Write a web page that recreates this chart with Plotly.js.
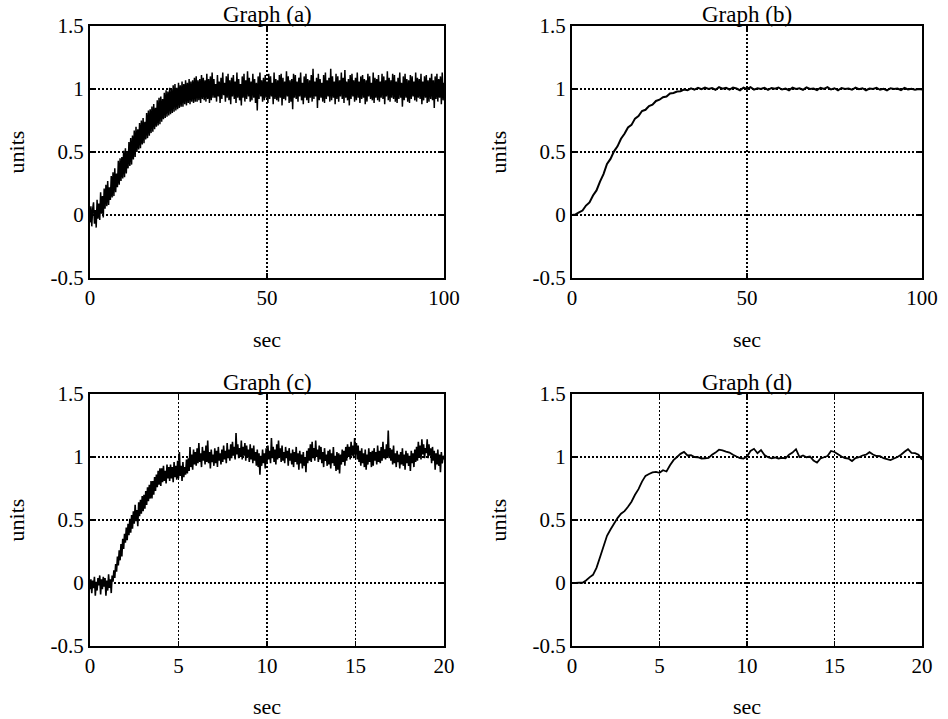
<!DOCTYPE html>
<html><head><meta charset="utf-8">
<script src="https://cdn.plot.ly/plotly-3.0.1.min.js"></script>
<style>html,body{margin:0;padding:0;background:#fff}#chart{width:948px;height:719px}</style>
</head><body><div id="chart"></div>
<script>
// ---- labels ----
const graphTitles = ["Graph (a)", "Graph (b)", "Graph (c)", "Graph (d)"];
const xLabel = "sec";
const yLabel = "units";
const yTickVals = [-0.5, 0, 0.5, 1, 1.5];
const yTickText = ["-0.5", "0", "0.5", "1", "1.5"];
const xTickValsLong = [0, 50, 100];
const xTickTextLong = ["0", "50", "100"];
const xTickValsShort = [0, 5, 10, 15, 20];
const xTickTextShort = ["0", "5", "10", "15", "20"];

// ---- sample times (start, step) ----
const tStartA = 0, tStepA = 0.25;
const tStartB = 0, tStepB = 1;
const tStartC = 0, tStepC = 0.05;
const tStartD = 0, tStepD = 0.2;

// ---- Graph (a): noisy response, 0..100 s (one row per second) ----
const seriesA = [
 -0.06, 0.07, -0.09, 0.05,   0.10, -0.07, 0.04, -0.10,   0.12, -0.03, 0.09, -0.04,   0.18, 0.01, 0.15, -0.02,
 0.21, 0.05, 0.24, 0.07,     0.27, 0.08, 0.22, 0.12,     0.31, 0.14, 0.34, 0.15,     0.37, 0.18, 0.33, 0.22,
 0.43, 0.24, 0.45, 0.27,     0.46, 0.29, 0.51, 0.30,     0.53, 0.33, 0.50, 0.37,     0.58, 0.39, 0.61, 0.40,
 0.63, 0.44, 0.67, 0.46,     0.70, 0.50, 0.68, 0.52,     0.73, 0.53, 0.75, 0.56,     0.77, 0.57, 0.74, 0.60,
 0.81, 0.61, 0.83, 0.63,     0.84, 0.65, 0.86, 0.66,     0.88, 0.68, 0.85, 0.70,     0.91, 0.71, 0.93, 0.72,
 0.94, 0.74, 0.92, 0.76,     0.97, 0.77, 0.99, 0.78,     0.98, 0.79, 1.01, 0.80,     1.00, 0.81, 1.03, 0.82,
 1.04, 0.83, 1.01, 0.84,     1.05, 0.85, 1.03, 0.86,     1.06, 0.86, 1.04, 0.88,     1.07, 0.87, 1.05, 0.89,
 1.08, 0.88, 1.06, 0.90,     1.07, 0.89, 1.09, 0.90,     1.10, 0.90, 1.07, 0.91,     1.08, 0.89, 1.11, 0.92,
 1.09, 0.91, 1.07, 0.90,     1.12, 0.92, 1.08, 0.89,     1.10, 0.91, 1.13, 0.93,
 1.08, 0.93, 1.04, 0.90,     1.11, 0.94, 1.06, 0.89,     1.09, 0.92, 1.13, 0.95,     1.05, 0.90, 1.10, 0.93,
 1.12, 0.91, 1.07, 0.88,     1.09, 0.94, 1.11, 0.92,     1.06, 0.89, 1.13, 0.93,     1.08, 0.91, 1.04, 0.87,
 1.10, 0.93, 1.12, 0.90,     1.07, 0.92, 1.14, 0.94,     1.09, 0.90, 1.06, 0.91,     1.12, 0.93, 1.08, 0.89,
 1.05, 0.83, 1.10, 0.92,     1.13, 0.94, 1.07, 0.90,     1.09, 0.91, 1.11, 0.93,     1.06, 0.89, 1.12, 0.92,
 1.10, 0.94, 1.05, 0.88,     1.13, 0.92, 1.08, 0.91,     1.07, 0.90, 1.11, 0.93,     1.12, 0.87, 1.09, 0.92,
 1.06, 0.91, 1.14, 0.94,     1.10, 0.89, 1.07, 0.90,     1.08, 0.84, 1.12, 0.93,     1.11, 0.92, 1.06, 0.90,
 1.09, 0.94, 1.13, 0.91,     1.05, 0.88, 1.10, 0.93,     1.12, 0.91, 1.08, 0.89,     1.07, 0.93, 1.11, 0.90,
 1.16, 0.92, 1.06, 0.94,     1.09, 0.85, 1.12, 0.91,     1.08, 0.93, 1.05, 0.90,     1.11, 0.89, 1.13, 0.92,
 1.07, 0.94, 1.09, 0.90,     1.16, 0.91, 1.10, 0.93,     1.06, 0.88, 1.12, 0.92,     1.10, 0.90, 1.07, 0.94,
 1.13, 0.92, 1.09, 0.89,     1.15, 0.93, 1.06, 0.91,     1.08, 0.87, 1.11, 0.92,     1.12, 0.94, 1.07, 0.90,
 1.09, 0.91, 1.13, 0.93,     1.06, 0.89, 1.10, 0.92,     1.11, 0.93, 1.08, 0.88,     1.07, 0.90, 1.12, 0.94,
 1.10, 0.92, 1.05, 0.91,     1.13, 0.89, 1.09, 0.93,     1.08, 0.91, 1.11, 0.90,     1.06, 0.93, 1.12, 0.92,
 1.10, 0.88, 1.07, 0.94,     1.14, 0.91, 1.09, 0.90,     1.07, 0.93, 1.12, 0.92,     1.11, 0.90, 1.06, 0.89,
 1.09, 0.92, 1.13, 0.93,     1.05, 0.86, 1.10, 0.91,     1.12, 0.93, 1.08, 0.90,     1.07, 0.89, 1.11, 0.92,
 1.10, 0.94, 1.06, 0.91,     1.13, 0.90, 1.09, 0.93,     1.08, 0.92, 1.12, 0.88,     1.06, 0.91, 1.10, 0.93,
 1.11, 0.89, 1.07, 0.90,     1.09, 0.92, 1.12, 0.91,     1.07, 0.85, 1.10, 0.92,     1.12, 0.90, 1.08, 0.93,
 1.10, 0.88, 1.13, 0.91,
 1.05
];

// ---- Graph (b): filtered response, 0..100 s ----
const seriesB = [
 0, 0.005, 0.02, 0.035, 0.075, 0.10, 0.155, 0.195, 0.265, 0.325,
 0.405, 0.445, 0.505, 0.545, 0.605, 0.645, 0.695, 0.715, 0.765, 0.785,
 0.825, 0.835, 0.865, 0.875, 0.905, 0.915, 0.935, 0.94, 0.965, 0.968,
 0.98, 0.982, 0.995, 0.99, 1.005,
 0.995, 1.01, 0.998, 1.012, 1.0, 1.008, 0.994, 1.015, 1.002, 1.01,
 0.996, 1.012, 1.004, 0.99, 1.01, 1.0, 1.014, 0.995, 1.006, 1.0,
 1.01, 0.993, 1.008, 1.002, 1.012, 0.996, 1.004, 0.99, 1.01, 1.0,
 1.006, 0.994, 1.012, 1.0, 1.004, 0.992, 1.01, 1.0, 1.015, 0.996,
 1.006, 0.99, 1.008, 1.0, 1.004, 0.994, 1.01, 0.998, 1.006, 0.99,
 1.004, 1.0, 1.01, 0.994, 1.002, 0.99, 1.006, 1.0, 1.004, 0.992,
 1.008, 0.996, 1.002, 0.994, 1.0, 0.996
];

// ---- Graph (c): noisy response, 0..20 s (one row per half second) ----
const seriesC = [
 -0.05, 0.03, -0.08, 0.02, -0.04, 0.05, -0.10, 0.01, -0.06, 0.04,
 -0.02, 0.06, -0.09, 0.03, -0.05, 0.05, -0.03, 0.04, -0.10, 0.02,
 -0.06, 0.07, -0.04, 0.03, -0.08, 0.06, 0.01, 0.10, 0.04, 0.15,
 0.09, 0.21, 0.14, 0.26, 0.18, 0.31, 0.21, 0.35, 0.27, 0.39,
 0.32, 0.44, 0.34, 0.47, 0.38, 0.51, 0.40, 0.54, 0.43, 0.57,
 0.47, 0.62, 0.49, 0.58, 0.45, 0.64, 0.53, 0.66, 0.55, 0.69,
 0.57, 0.70, 0.59, 0.73, 0.62, 0.76, 0.65, 0.78, 0.67, 0.81,
 0.67, 0.81, 0.70, 0.84, 0.73, 0.86, 0.76, 0.89, 0.78, 0.91,
 0.77, 0.91, 0.80, 0.93, 0.81, 0.89, 0.79, 0.94, 0.83, 0.92,
 0.81, 0.94, 0.83, 0.92, 0.80, 0.96, 0.84, 0.93, 0.82, 0.97,
 0.83, 1.04, 0.85, 0.93, 0.81, 0.96, 0.84, 0.92, 0.86, 0.98,
 0.87, 0.99, 0.89, 1.08, 0.92, 1.02, 0.90, 1.06, 0.94, 1.04,
 0.93, 1.07, 0.95, 1.11, 0.96, 1.03, 0.92, 1.08, 0.97, 1.05,
 0.94, 1.09, 0.96, 1.13, 0.95, 1.04, 0.91, 1.06, 0.96, 1.02,
 0.93, 1.07, 0.95, 1.05, 0.92, 1.08, 0.97, 1.03, 0.94, 1.06,
 0.96, 1.09, 0.98, 1.05, 0.95, 1.11, 0.99, 1.06, 0.97, 1.10,
 0.99, 1.12, 1.01, 1.08, 0.98, 1.19, 1.02, 1.10, 0.99, 1.07,
 1.00, 1.13, 0.98, 1.08, 1.01, 1.11, 0.97, 1.09, 1.00, 1.06,
 0.96, 1.10, 0.98, 1.07, 0.95, 1.09, 0.97, 1.04, 0.93, 1.06,
 0.92, 1.03, 0.86, 1.01, 0.93, 1.06, 0.95, 1.03, 0.91, 1.07,
 0.96, 1.09, 0.98, 1.05, 0.95, 1.15, 0.99, 1.08, 0.96, 1.06,
 0.94, 1.10, 0.98, 1.13, 1.00, 1.07, 0.96, 1.09, 0.97, 1.04,
 0.95, 1.08, 0.99, 1.05, 0.93, 1.07, 0.97, 1.03, 0.94, 1.06,
 0.92, 1.04, 0.96, 1.08, 0.94, 1.03, 0.90, 1.05, 0.95, 1.02,
 0.91, 1.04, 0.93, 1.00, 0.88, 1.05, 0.95, 1.07, 0.97, 1.10,
 0.96, 1.12, 0.99, 1.07, 0.97, 1.13, 1.00, 1.06, 0.96, 1.09,
 0.98, 1.08, 0.95, 1.04, 0.92, 1.07, 0.97, 1.02, 0.93, 1.05,
 0.94, 1.06, 0.91, 1.03, 0.95, 1.08, 0.93, 1.01, 0.89, 1.04,
 0.90, 1.03, 0.87, 1.02, 0.94, 1.06, 0.96, 1.05, 0.93, 1.08,
 0.97, 1.10, 1.00, 1.08, 0.98, 1.12, 1.01, 1.09, 0.99, 1.15,
 1.02, 1.11, 0.98, 1.09, 0.96, 1.05, 0.93, 1.07, 0.95, 1.03,
 0.92, 1.06, 0.90, 1.02, 0.94, 1.07, 0.96, 1.04, 0.92, 1.05,
 0.93, 1.07, 0.97, 1.04, 0.94, 1.09, 0.96, 1.05, 0.95, 1.08,
 0.97, 1.12, 0.99, 1.06, 0.98, 1.10, 1.00, 1.21, 0.99, 1.07,
 0.97, 1.06, 0.94, 1.09, 0.95, 1.03, 0.92, 1.05, 0.96, 1.02,
 0.91, 1.04, 0.94, 1.07, 0.93, 1.02, 0.90, 1.05, 0.95, 1.03,
 0.93, 1.01, 0.89, 1.05, 0.95, 1.03, 0.92, 1.06, 0.96, 1.08,
 0.97, 1.12, 1.00, 1.09, 0.98, 1.14, 1.02, 1.10, 0.99, 1.07,
 1.03, 1.14, 0.99, 1.10, 1.01, 1.07, 0.95, 1.08, 0.97, 1.05,
 0.90, 1.03, 0.94, 1.06, 0.93, 1.02, 0.88, 1.04, 0.95, 1.01,
 0.98
];

// ---- Graph (d): filtered response, 0..20 s ----
const seriesD = [
 0, 0, 0.003, 0.002, 0.02, 0.045, 0.065, 0.12, 0.205, 0.29,
 0.375, 0.425, 0.47, 0.515, 0.55, 0.57, 0.605, 0.645, 0.70, 0.745,
 0.805, 0.85, 0.865, 0.878, 0.882, 0.875, 0.895, 0.885, 0.935, 0.975,
 1.0, 1.025, 1.04, 1.012, 1.015, 1.0, 0.998, 0.988, 0.99, 0.993,
 1.018, 1.035, 1.058, 1.052, 1.042, 1.035, 1.018, 1.004, 0.992, 0.987,
 1.003, 1.048, 1.065, 1.03, 1.055, 1.015, 0.998, 0.99, 0.996, 0.988,
 0.993, 0.99, 1.018, 1.035, 1.062, 1.0, 1.012, 0.998, 1.004, 0.972,
 0.955, 0.988, 0.998, 1.008, 1.048, 1.04, 1.022, 1.004, 0.992, 0.988,
 0.968, 0.992, 0.998, 1.012, 1.018, 1.038, 1.02, 1.008, 1.006, 0.99,
 0.984, 0.976, 0.988, 1.0, 1.018, 1.042, 1.062, 1.032, 1.03, 1.018,
 0.978
];

const FONT = '"Liberation Serif", "Times New Roman", Times, serif';

function trace(y, t0, dt, xa, ya, w) {
  return { type: 'scatter', mode: 'lines', y: y, x0: t0, dx: dt,
    xaxis: xa, yaxis: ya, line: { color: '#000', width: w, simplify: false },
    hoverinfo: 'skip', showlegend: false };
}

const data = [
  trace(seriesA, tStartA, tStepA, 'x', 'y', 1.5),
  trace(seriesB, tStartB, tStepB, 'x2', 'y2', 2),
  trace(seriesC, tStartC, tStepC, 'x3', 'y3', 1.6),
  trace(seriesD, tStartD, tStepD, 'x4', 'y4', 1.8)
];

const GRIDDASH = '1.5px,2.5px';

function xAxis(domain, anchor, range, vals, text) {
  return { domain: domain, anchor: anchor, range: range, tickmode: 'array',
    tickvals: vals, ticktext: text, ticks: 'inside', ticklen: 5, tickwidth: 1.5, tickcolor: '#000',
    showline: true, linecolor: '#000', linewidth: 2, mirror: 'ticks',
    showgrid: true, gridcolor: '#000', gridwidth: 1.2, griddash: GRIDDASH,
    zeroline: false, tickfont: { family: FONT, size: 21, color: '#000' },
    title: { text: xLabel, font: { family: FONT, size: 22, color: '#000' }, standoff: 22 },
    fixedrange: true };
}
function yAxis(domain, anchor) {
  return { domain: domain, anchor: anchor, range: [-0.5, 1.5], tickmode: 'array',
    tickvals: yTickVals, ticktext: yTickText, ticks: 'inside', ticklen: 5, tickwidth: 1.5, tickcolor: '#000',
    showline: true, linecolor: '#000', linewidth: 2, mirror: 'ticks',
    showgrid: true, gridcolor: '#000', gridwidth: 1.2, griddash: GRIDDASH,
    zeroline: false, tickfont: { family: FONT, size: 21, color: '#000' },
    title: { text: yLabel, font: { family: FONT, size: 22, color: '#000' }, standoff: 20 },
    fixedrange: true };
}

const W = 948, H = 719;
const colL = [90 / W, 444 / W];
const colR = [572 / W, 922 / W];
const rowT = [1 - 278 / H, 1 - 26 / H];
const rowB = [1 - 646 / H, 1 - 394 / H];

const layout = {
  width: W, height: H, margin: { l: 0, r: 0, t: 0, b: 0 },
  paper_bgcolor: '#fff', plot_bgcolor: '#fff', showlegend: false,
  xaxis: xAxis(colL, 'y', [0, 100], xTickValsLong, xTickTextLong),
  yaxis: yAxis(rowT, 'x'),
  xaxis2: xAxis(colR, 'y2', [0, 100], xTickValsLong, xTickTextLong),
  yaxis2: yAxis(rowT, 'x2'),
  xaxis3: xAxis(colL, 'y3', [0, 20], xTickValsShort, xTickTextShort),
  yaxis3: yAxis(rowB, 'x3'),
  xaxis4: xAxis(colR, 'y4', [0, 20], xTickValsShort, xTickTextShort),
  yaxis4: yAxis(rowB, 'x4'),
  annotations: graphTitles.map((t, i) => ({
    text: t, xref: (i === 0 ? 'x' : 'x' + (i + 1)) + ' domain', yref: (i === 0 ? 'y' : 'y' + (i + 1)) + ' domain',
    x: 0.5, y: 1, xanchor: 'center', yanchor: 'bottom', yshift: -3, showarrow: false,
    font: { family: FONT, size: 23, color: '#000' }
  }))
};

Plotly.newPlot('chart', data, layout, { staticPlot: true, displayModeBar: false });
</script>
</body></html>
